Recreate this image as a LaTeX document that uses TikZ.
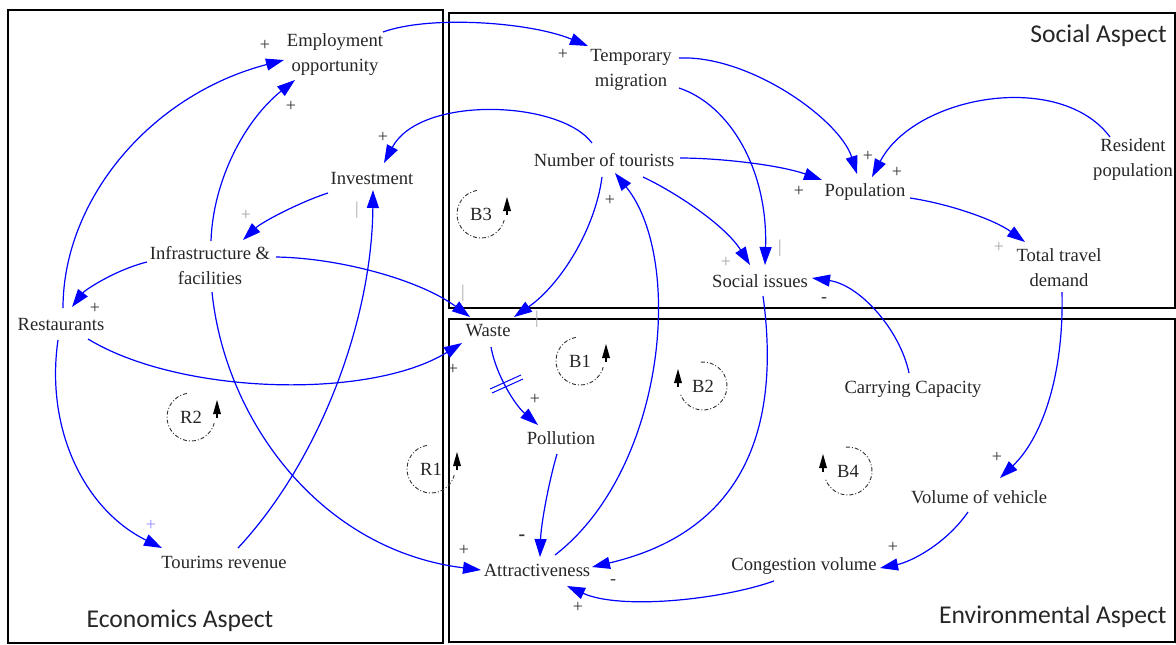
\documentclass[tikz,border=0pt]{standalone}
\usepackage{fontspec}
\setmainfont{Liberation Serif}
\newfontfamily\aspectfont{Carlito}
\usetikzlibrary{arrows.meta}
\tikzset{
  var/.style={font=\rmfamily\fontsize{9.3}{12.5}\selectfont, align=center, inner sep=1pt, text=black!85},
  link/.style={draw=blue, line width=0.6pt, -{Triangle[length=9pt,width=6pt]}},
  pol/.style={font=\rmfamily\fontsize{9}{10}\selectfont, inner sep=0pt, text=black!80},
  polfaint/.style={pol, text=black!35},
  polblue/.style={pol, text=blue!45},
  aspect/.style={font=\aspectfont\fontsize{12.8}{14}\selectfont, inner sep=0pt, text=black!85},
  sector/.style={draw=black, line width=1.2pt},
  loopring/.style={draw=black!80, line width=0.45pt, dash pattern=on 2pt off 1pt on 0.5pt off 1pt},
  looplbl/.style={font=\rmfamily\fontsize{9.3}{11}\selectfont, inner sep=0pt, text=black!85},
  looptip/.style={fill=black},
  delaymark/.style={draw=blue, line width=0.5pt},
}
\begin{document}
\begin{tikzpicture}[x=0.5pt,y=-0.5pt]
\useasboundingbox (0,0) rectangle (1176,644);

% sector boxes
\draw[sector] (8,10) rectangle (443,643);
\draw[sector] (449,13) rectangle (1175,308);
\draw[sector] (449,319) rectangle (1175,642);

\node[aspect, anchor=east] (socasp) at (1167,36) {Social Aspect};
\node[aspect] (ecoasp) at (180,621) {Economics Aspect};
\node[aspect, anchor=east] (envasp) at (1167,617) {Environmental Aspect};

% variables
\node[var] (emp)  at (335,55)  {Employment\\opportunity};
\node[var] (tm)   at (631,70)  {Temporary\\migration};
\node[var] (inv)  at (372,178) {Investment};
\node[var] (nt)   at (604,160) {Number of tourists};
\node[var] (pop)  at (865,192) {Population};
\node[var] (res)  at (1133,160) {Resident\\population};
\node[var] (inf)  at (210,266) {Infrastructure \&\\facilities};
\node[var] (soc)  at (760,281) {Social issues};
\node[var] (ttd)  at (1059,268) {Total travel\\demand};
\node[var] (rest) at (61,324)  {Restaurants};
\node[var] (waste) at (488,331) {Waste};
\node[var] (poll) at (561,438) {Pollution};
\node[var] (cc)   at (913,389) {Carrying Capacity};
\node[var] (vov)  at (979,497) {Volume of vehicle};
\node[var] (rev)  at (224,562) {Tourims revenue};
\node[var] (attr) at (537,570) {Attractiveness};
\node[var] (cong) at (804,566) {Congestion volume};

% connectors
\draw[link] ([shift={(48,-23)}]emp.center) .. controls (430,15) and (530,22) .. ([shift={(-43,-24)}]tm.center);
\draw[link] ([shift={(2,-16)}]rest.center) .. controls (63,200) and (150,95) .. ([shift={(-51,5)}]emp.center);
\draw[link] ([shift={(1,-25)}]inf.center) .. controls (213,180) and (245,120) .. ([shift={(-40,25)}]emp.center);
\draw[link] ([shift={(-12,-17)}]nt.center) .. controls (560,100) and (420,95) .. ([shift={(12,-15)}]inv.center);
\draw[link] ([shift={(-44,15)}]inv.center) .. controls (300,202) and (262,222) .. ([shift={(33,-26)}]inf.center);
\draw[link] ([shift={(14,-14)}]rev.center) .. controls (320,460) and (372,320) .. ([shift={(1,12)}]inv.center);
\draw[link] ([shift={(-63,-4)}]inf.center) .. controls (115,270) and (85,290) .. ([shift={(11,-17)}]rest.center);
\draw[link] ([shift={(66,-9)}]inf.center) .. controls (340,258) and (420,280) .. ([shift={(-18,-14)}]waste.center);
\draw[link] ([shift={(-2,17)}]nt.center) .. controls (595,230) and (560,285) .. ([shift={(26,-14)}]waste.center);
\draw[link] ([shift={(27,15)}]rest.center) .. controls (180,395) and (370,400) .. ([shift={(-26,12)}]waste.center);
\draw[link] ([shift={(-3,16)}]rest.center) .. controls (45,430) and (85,510) .. ([shift={(-62,-14)}]rev.center);
\draw[link] ([shift={(2,26)}]inf.center) .. controls (225,420) and (320,550) .. ([shift={(-56,0)}]attr.center);
\draw[link] ([shift={(3,16)}]waste.center) .. controls (496,375) and (515,405) .. ([shift={(-23,-13)}]poll.center);
\draw[link] ([shift={(-4,16)}]poll.center) .. controls (548,485) and (541,525) .. ([shift={(3,-13)}]attr.center);
\draw[link] ([shift={(18,-15)}]attr.center) .. controls (665,470) and (685,260) .. ([shift={(11,13)}]nt.center);
\draw[link] ([shift={(48,-12)}]tm.center) .. controls (750,55) and (840,120) .. ([shift={(-8,-18)}]pop.center);
\draw[link] ([shift={(48,18)}]tm.center) .. controls (730,105) and (768,170) .. ([shift={(5,-16)}]soc.center);
\draw[link] ([shift={(76,-2)}]nt.center) .. controls (720,158) and (780,165) .. ([shift={(-43,-12)}]pop.center);
\draw[link] ([shift={(39,17)}]nt.center) .. controls (675,192) and (725,225) .. ([shift={(-10,-16)}]soc.center);
\draw[link] ([shift={(-23,-23)}]res.center) .. controls (1060,70) and (915,95) .. ([shift={(7,-15)}]pop.center);
\draw[link] ([shift={(45,6)}]pop.center) .. controls (950,204) and (995,220) .. ([shift={(-34,-26)}]ttd.center);
\draw[link] ([shift={(3,15)}]soc.center) .. controls (780,420) and (750,530) .. ([shift={(55,-3)}]attr.center);
\draw[link] ([shift={(-4,-16)}]cc.center) .. controls (900,330) and (860,285) .. ([shift={(52,-3)}]soc.center);
\draw[link] ([shift={(3,24)}]ttd.center) .. controls (1064,380) and (1040,440) .. ([shift={(21,-19)}]vov.center);
\draw[link] ([shift={(-11,15)}]vov.center) .. controls (945,545) and (910,562) .. ([shift={(76,2)}]cong.center);
\draw[link] ([shift={(-30,15)}]cong.center) .. controls (720,600) and (620,610) .. ([shift={(30,16)}]attr.center);

% delay mark on Waste -> Pollution
\draw[delaymark] (490,389) -- (521,375);
\draw[delaymark] (492,393) -- (523,379);

% polarities
\node[pol] (p1) at (563,54) {+};
\node[pol] (p2) at (265,45) {+};
\node[pol] (p3) at (291,106) {+};
\node[pol] (p4) at (383,137) {+};
\node[polfaint] (p5) at (246,215) {+};
\node[polfaint] (p6) at (357,210) {|};
\node[pol] (p7) at (95,308) {+};
\node[polfaint] (p8) at (463,293) {|};
\node[polfaint] (p9) at (537,319) {|};
\node[pol] (p10) at (610,200) {+};
\node[pol] (p11) at (453,369) {+};
\node[polblue] (p12) at (151,525) {+};
\node[pol] (p13) at (464,550) {+};
\node[pol] (p14) at (535,399) {+};
\node[pol, font=\rmfamily\fontsize{10}{10}\bfseries] (p15) at (522,538) {-};
\node[pol] (p16) at (613,582) {-};
\node[pol] (p17) at (578,607) {+};
\node[pol] (p18) at (799,191) {+};
\node[polfaint] (p19) at (726,262) {+};
\node[polfaint] (p20) at (780,248) {|};
\node[pol] (p21) at (824,300) {-};
\node[pol] (p22) at (868,156) {+};
\node[pol] (p23) at (897,172) {+};
\node[polfaint] (p24) at (999,247) {+};
\node[pol] (p25) at (997,457) {+};
\node[pol] (p26) at (893,547) {+};

% loop markers (arrow on the right)
\foreach \nm/\lx/\ly in {B3/481/214, B1/580/361, R2/191/417, R1/431/469}{
  \node[looplbl] (loop\nm) at (\lx,\ly) {\nm};
  \draw[loopring] ([shift={(-100:24)}]loop\nm.center) arc[start angle=-100, end angle=-345, radius=24];
  \fill[looptip] ([shift={(26,-17)}]loop\nm.center) -- ++(4,14) -- ++(-8,0) -- cycle;
  \draw[black, line width=0.6pt] ([shift={(26,-3)}]loop\nm.center) -- ++(0,4);
}
% loop markers (arrow on the left)
\foreach \nm/\lx/\ly in {B2/703/386, B4/848/471}{
  \node[looplbl] (loop\nm) at (\lx,\ly) {\nm};
  \draw[loopring] ([shift={(-95:24)}]loop\nm.center) arc[start angle=-95, end angle=160, radius=24];
  \fill[looptip] ([shift={(-25,-17)}]loop\nm.center) -- ++(4,14) -- ++(-8,0) -- cycle;
  \draw[black, line width=0.6pt] ([shift={(-25,-3)}]loop\nm.center) -- ++(0,4);
}
\end{tikzpicture}
\end{document}
